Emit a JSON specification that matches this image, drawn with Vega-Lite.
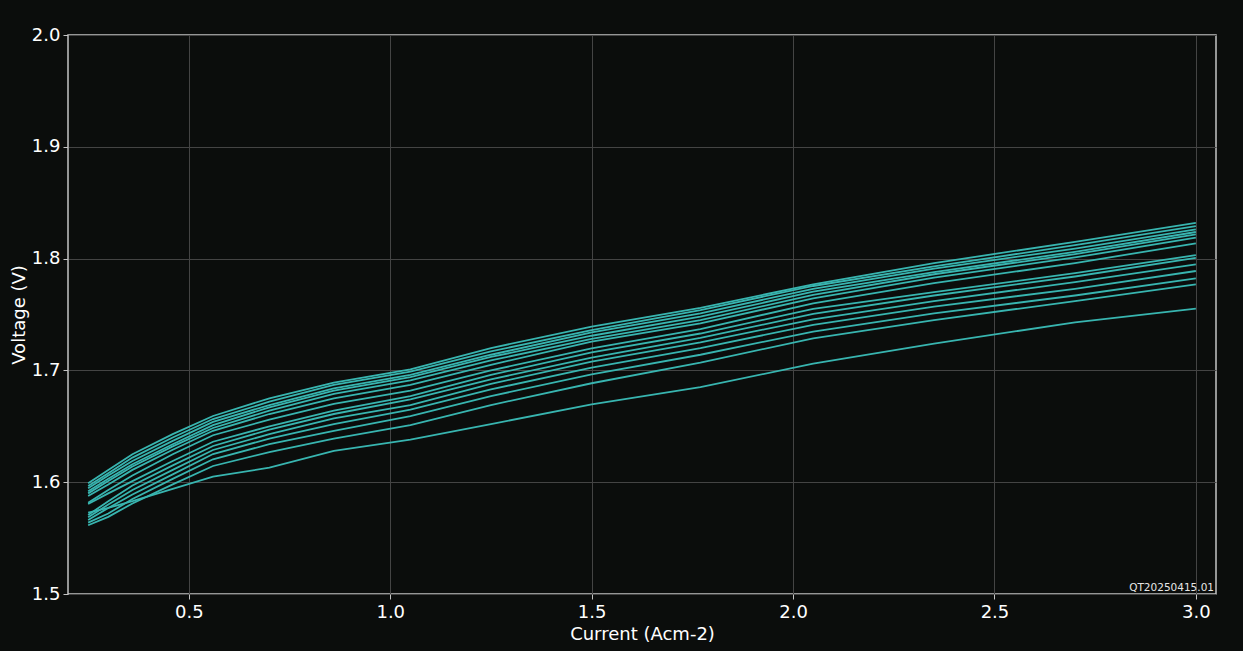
{
  "$schema": "https://vega.github.io/schema/vega-lite/v6.json",
  "width": 1148,
  "height": 559,
  "autosize": {"type": "none"},
  "padding": {"left": 68, "top": 35, "right": 27, "bottom": 57},
  "background": "#0b0d0c",
  "config": {
    "font": "DejaVu Sans",
    "view": {"stroke": "#c4c4c4", "strokeWidth": 1.5},
    "axis": {
      "labelColor": "#ffffff",
      "titleColor": "#ffffff",
      "labelFontSize": 18,
      "titleFontSize": 18,
      "titleFontWeight": "normal",
      "gridColor": "#444444",
      "gridWidth": 1,
      "domain": false,
      "tickColor": "#c4c4c4",
      "tickSize": 5
    }
  },
  "datasets": {
    "curves": [
      {"s": 1, "x": 0.25, "v": 1.599}, {"s": 1, "x": 0.30, "v": 1.611}, {"s": 1, "x": 0.36, "v": 1.625}, {"s": 1, "x": 0.46, "v": 1.643}, {"s": 1, "x": 0.56, "v": 1.6592}, {"s": 1, "x": 0.70, "v": 1.675}, {"s": 1, "x": 0.86, "v": 1.689}, {"s": 1, "x": 1.05, "v": 1.701}, {"s": 1, "x": 1.25, "v": 1.720}, {"s": 1, "x": 1.50, "v": 1.7391}, {"s": 1, "x": 1.77, "v": 1.756}, {"s": 1, "x": 2.05, "v": 1.777}, {"s": 1, "x": 2.35, "v": 1.796}, {"s": 1, "x": 2.70, "v": 1.815}, {"s": 1, "x": 3.00, "v": 1.832},
      {"s": 2, "x": 0.25, "v": 1.5966}, {"s": 2, "x": 0.30, "v": 1.608}, {"s": 2, "x": 0.36, "v": 1.622}, {"s": 2, "x": 0.46, "v": 1.640}, {"s": 2, "x": 0.56, "v": 1.6565}, {"s": 2, "x": 0.70, "v": 1.672}, {"s": 2, "x": 0.86, "v": 1.687}, {"s": 2, "x": 1.05, "v": 1.699}, {"s": 2, "x": 1.25, "v": 1.717}, {"s": 2, "x": 1.50, "v": 1.7361}, {"s": 2, "x": 1.77, "v": 1.754}, {"s": 2, "x": 2.05, "v": 1.7755}, {"s": 2, "x": 2.35, "v": 1.793}, {"s": 2, "x": 2.70, "v": 1.812}, {"s": 2, "x": 3.00, "v": 1.8291},
      {"s": 3, "x": 0.25, "v": 1.5945}, {"s": 3, "x": 0.30, "v": 1.606}, {"s": 3, "x": 0.36, "v": 1.619}, {"s": 3, "x": 0.46, "v": 1.637}, {"s": 3, "x": 0.56, "v": 1.654}, {"s": 3, "x": 0.70, "v": 1.669}, {"s": 3, "x": 0.86, "v": 1.684}, {"s": 3, "x": 1.05, "v": 1.696}, {"s": 3, "x": 1.25, "v": 1.714}, {"s": 3, "x": 1.50, "v": 1.734}, {"s": 3, "x": 1.77, "v": 1.751}, {"s": 3, "x": 2.05, "v": 1.773}, {"s": 3, "x": 2.35, "v": 1.791}, {"s": 3, "x": 2.70, "v": 1.809}, {"s": 3, "x": 3.00, "v": 1.8262},
      {"s": 4, "x": 0.25, "v": 1.592}, {"s": 4, "x": 0.30, "v": 1.603}, {"s": 4, "x": 0.36, "v": 1.616}, {"s": 4, "x": 0.46, "v": 1.634}, {"s": 4, "x": 0.56, "v": 1.651}, {"s": 4, "x": 0.70, "v": 1.667}, {"s": 4, "x": 0.86, "v": 1.682}, {"s": 4, "x": 1.05, "v": 1.694}, {"s": 4, "x": 1.25, "v": 1.712}, {"s": 4, "x": 1.50, "v": 1.731}, {"s": 4, "x": 1.77, "v": 1.748}, {"s": 4, "x": 2.05, "v": 1.7705}, {"s": 4, "x": 2.35, "v": 1.788}, {"s": 4, "x": 2.70, "v": 1.806}, {"s": 4, "x": 3.00, "v": 1.8238},
      {"s": 5, "x": 0.25, "v": 1.590}, {"s": 5, "x": 0.30, "v": 1.601}, {"s": 5, "x": 0.36, "v": 1.614}, {"s": 5, "x": 0.46, "v": 1.632}, {"s": 5, "x": 0.56, "v": 1.6485}, {"s": 5, "x": 0.70, "v": 1.664}, {"s": 5, "x": 0.86, "v": 1.679}, {"s": 5, "x": 1.05, "v": 1.691}, {"s": 5, "x": 1.25, "v": 1.709}, {"s": 5, "x": 1.50, "v": 1.7281}, {"s": 5, "x": 1.77, "v": 1.745}, {"s": 5, "x": 2.05, "v": 1.7675}, {"s": 5, "x": 2.35, "v": 1.786}, {"s": 5, "x": 2.70, "v": 1.804}, {"s": 5, "x": 3.00, "v": 1.8217},
      {"s": 6, "x": 0.25, "v": 1.5877}, {"s": 6, "x": 0.30, "v": 1.598}, {"s": 6, "x": 0.36, "v": 1.611}, {"s": 6, "x": 0.46, "v": 1.629}, {"s": 6, "x": 0.56, "v": 1.646}, {"s": 6, "x": 0.70, "v": 1.661}, {"s": 6, "x": 0.86, "v": 1.675}, {"s": 6, "x": 1.05, "v": 1.687}, {"s": 6, "x": 1.25, "v": 1.705}, {"s": 6, "x": 1.50, "v": 1.7257}, {"s": 6, "x": 1.77, "v": 1.742}, {"s": 6, "x": 2.05, "v": 1.7645}, {"s": 6, "x": 2.35, "v": 1.783}, {"s": 6, "x": 2.70, "v": 1.801}, {"s": 6, "x": 3.00, "v": 1.8187},
      {"s": 7, "x": 0.25, "v": 1.5817}, {"s": 7, "x": 0.30, "v": 1.593}, {"s": 7, "x": 0.36, "v": 1.606}, {"s": 7, "x": 0.46, "v": 1.625}, {"s": 7, "x": 0.56, "v": 1.642}, {"s": 7, "x": 0.70, "v": 1.656}, {"s": 7, "x": 0.86, "v": 1.670}, {"s": 7, "x": 1.05, "v": 1.682}, {"s": 7, "x": 1.25, "v": 1.700}, {"s": 7, "x": 1.50, "v": 1.7198}, {"s": 7, "x": 1.77, "v": 1.737}, {"s": 7, "x": 2.05, "v": 1.760}, {"s": 7, "x": 2.35, "v": 1.778}, {"s": 7, "x": 2.70, "v": 1.796}, {"s": 7, "x": 3.00, "v": 1.8137},
      {"s": 8, "x": 0.25, "v": 1.5805}, {"s": 8, "x": 0.30, "v": 1.590}, {"s": 8, "x": 0.36, "v": 1.601}, {"s": 8, "x": 0.46, "v": 1.619}, {"s": 8, "x": 0.56, "v": 1.6362}, {"s": 8, "x": 0.70, "v": 1.650}, {"s": 8, "x": 0.86, "v": 1.664}, {"s": 8, "x": 1.05, "v": 1.677}, {"s": 8, "x": 1.25, "v": 1.696}, {"s": 8, "x": 1.50, "v": 1.7162}, {"s": 8, "x": 1.77, "v": 1.733}, {"s": 8, "x": 2.05, "v": 1.755}, {"s": 8, "x": 2.35, "v": 1.770}, {"s": 8, "x": 2.70, "v": 1.787}, {"s": 8, "x": 3.00, "v": 1.8032},
      {"s": 9, "x": 0.25, "v": 1.5707}, {"s": 9, "x": 0.30, "v": 1.583}, {"s": 9, "x": 0.36, "v": 1.597}, {"s": 9, "x": 0.46, "v": 1.615}, {"s": 9, "x": 0.56, "v": 1.6324}, {"s": 9, "x": 0.70, "v": 1.647}, {"s": 9, "x": 0.86, "v": 1.661}, {"s": 9, "x": 1.05, "v": 1.674}, {"s": 9, "x": 1.25, "v": 1.692}, {"s": 9, "x": 1.50, "v": 1.7114}, {"s": 9, "x": 1.77, "v": 1.729}, {"s": 9, "x": 2.05, "v": 1.7505}, {"s": 9, "x": 2.35, "v": 1.767}, {"s": 9, "x": 2.70, "v": 1.784}, {"s": 9, "x": 3.00, "v": 1.8006},
      {"s": 10, "x": 0.25, "v": 1.5686}, {"s": 10, "x": 0.30, "v": 1.580}, {"s": 10, "x": 0.36, "v": 1.593}, {"s": 10, "x": 0.46, "v": 1.611}, {"s": 10, "x": 0.56, "v": 1.6288}, {"s": 10, "x": 0.70, "v": 1.643}, {"s": 10, "x": 0.86, "v": 1.657}, {"s": 10, "x": 1.05, "v": 1.669}, {"s": 10, "x": 1.25, "v": 1.688}, {"s": 10, "x": 1.50, "v": 1.7078}, {"s": 10, "x": 1.77, "v": 1.725}, {"s": 10, "x": 2.05, "v": 1.7457}, {"s": 10, "x": 2.35, "v": 1.762}, {"s": 10, "x": 2.70, "v": 1.779}, {"s": 10, "x": 3.00, "v": 1.7949},
      {"s": 11, "x": 0.25, "v": 1.5662}, {"s": 11, "x": 0.30, "v": 1.577}, {"s": 11, "x": 0.36, "v": 1.589}, {"s": 11, "x": 0.46, "v": 1.607}, {"s": 11, "x": 0.56, "v": 1.6252}, {"s": 11, "x": 0.70, "v": 1.639}, {"s": 11, "x": 0.86, "v": 1.652}, {"s": 11, "x": 1.05, "v": 1.665}, {"s": 11, "x": 1.25, "v": 1.683}, {"s": 11, "x": 1.50, "v": 1.7025}, {"s": 11, "x": 1.77, "v": 1.720}, {"s": 11, "x": 2.05, "v": 1.7407}, {"s": 11, "x": 2.35, "v": 1.757}, {"s": 11, "x": 2.70, "v": 1.773}, {"s": 11, "x": 3.00, "v": 1.7889},
      {"s": 12, "x": 0.25, "v": 1.5638}, {"s": 12, "x": 0.30, "v": 1.572}, {"s": 12, "x": 0.36, "v": 1.585}, {"s": 12, "x": 0.46, "v": 1.603}, {"s": 12, "x": 0.56, "v": 1.6205}, {"s": 12, "x": 0.70, "v": 1.634}, {"s": 12, "x": 0.86, "v": 1.646}, {"s": 12, "x": 1.05, "v": 1.659}, {"s": 12, "x": 1.25, "v": 1.677}, {"s": 12, "x": 1.50, "v": 1.6965}, {"s": 12, "x": 1.77, "v": 1.714}, {"s": 12, "x": 2.05, "v": 1.7347}, {"s": 12, "x": 2.35, "v": 1.751}, {"s": 12, "x": 2.70, "v": 1.767}, {"s": 12, "x": 3.00, "v": 1.7824},
      {"s": 13, "x": 0.25, "v": 1.5615}, {"s": 13, "x": 0.30, "v": 1.569}, {"s": 13, "x": 0.36, "v": 1.581}, {"s": 13, "x": 0.46, "v": 1.598}, {"s": 13, "x": 0.56, "v": 1.6145}, {"s": 13, "x": 0.70, "v": 1.627}, {"s": 13, "x": 0.86, "v": 1.639}, {"s": 13, "x": 1.05, "v": 1.651}, {"s": 13, "x": 1.25, "v": 1.669}, {"s": 13, "x": 1.50, "v": 1.6885}, {"s": 13, "x": 1.77, "v": 1.707}, {"s": 13, "x": 2.05, "v": 1.7287}, {"s": 13, "x": 2.35, "v": 1.745}, {"s": 13, "x": 2.70, "v": 1.762}, {"s": 13, "x": 3.00, "v": 1.777},
      {"s": 14, "x": 0.25, "v": 1.5727}, {"s": 14, "x": 0.30, "v": 1.577}, {"s": 14, "x": 0.36, "v": 1.583}, {"s": 14, "x": 0.46, "v": 1.594}, {"s": 14, "x": 0.56, "v": 1.6049}, {"s": 14, "x": 0.70, "v": 1.613}, {"s": 14, "x": 0.86, "v": 1.628}, {"s": 14, "x": 1.05, "v": 1.638}, {"s": 14, "x": 1.25, "v": 1.652}, {"s": 14, "x": 1.50, "v": 1.6697}, {"s": 14, "x": 1.77, "v": 1.685}, {"s": 14, "x": 2.05, "v": 1.706}, {"s": 14, "x": 2.35, "v": 1.724}, {"s": 14, "x": 2.70, "v": 1.743}, {"s": 14, "x": 3.00, "v": 1.7552}
    ],
    "note": [{"x": 3.05, "v": 1.5, "label": "QT20250415.01"}]
  },
  "layer": [
    {
      "data": {"name": "curves"},
      "mark": {"type": "line", "color": "#38b5b0", "strokeWidth": 1.8},
      "encoding": {
        "x": {
          "field": "x",
          "type": "quantitative",
          "title": "Current (Acm-2)",
          "scale": {"domain": [0.2, 3.05], "nice": false, "zero": false},
          "axis": {"values": [0.5, 1.0, 1.5, 2.0, 2.5, 3.0], "format": ".1f", "titlePadding": 4, "labelPadding": 4}
        },
        "y": {
          "field": "v",
          "type": "quantitative",
          "title": "Voltage (V)",
          "scale": {"domain": [1.5, 2.0], "nice": false, "zero": false},
          "axis": {"values": [1.5, 1.6, 1.7, 1.8, 1.9, 2.0], "format": ".1f", "titlePadding": 3, "labelPadding": 3}
        },
        "detail": {"field": "s", "type": "nominal"},
        "order": {"field": "x", "type": "quantitative"}
      }
    },
    {
      "data": {"name": "note"},
      "mark": {"type": "text", "align": "right", "baseline": "bottom", "dx": -2, "dy": -1, "fontSize": 10.5, "color": "#e6e6e6"},
      "encoding": {
        "x": {"field": "x", "type": "quantitative"},
        "y": {"field": "v", "type": "quantitative"},
        "text": {"field": "label"}
      }
    }
  ]
}
